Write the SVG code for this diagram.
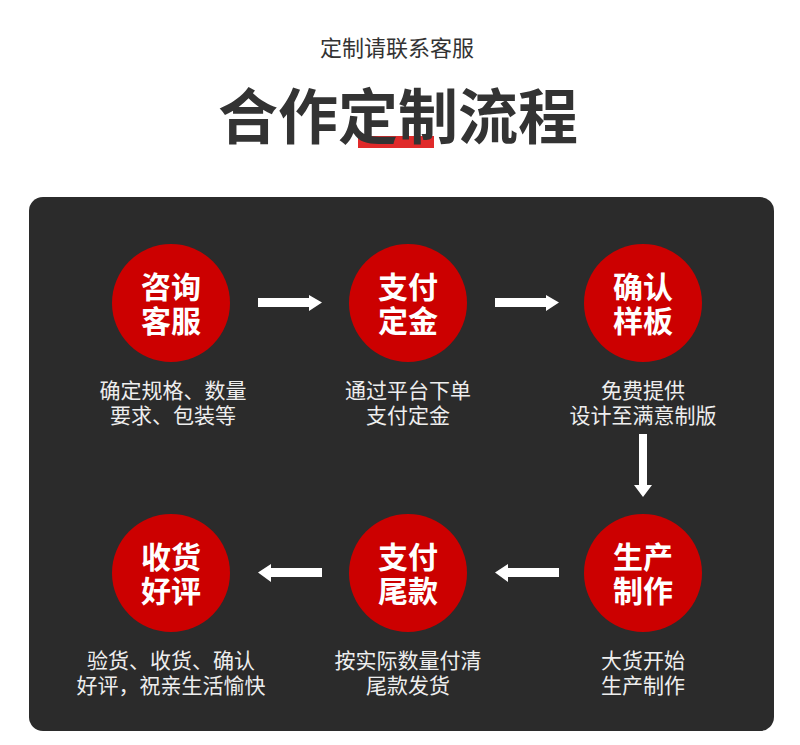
<svg xmlns="http://www.w3.org/2000/svg" width="800" height="745" viewBox="0 0 800 745">
<style>
.sub{font-family:"Noto Sans CJK SC","Noto Sans",sans-serif;font-size:22px;fill:#333;text-anchor:middle}
.title{font-family:"Noto Sans CJK SC","Noto Sans",sans-serif;font-size:60px;font-weight:bold;fill:#333;text-anchor:middle}
.c{fill:#cc0000}
.ct{font-family:"Noto Sans CJK SC","Noto Sans",sans-serif;font-size:30px;font-weight:bold;fill:#fff;text-anchor:middle}
.cap{font-family:"Noto Sans CJK SC","Noto Sans",sans-serif;font-size:21px;fill:#eeeeee;text-anchor:middle}
.arr{fill:#fff}
</style>
<rect width="800" height="745" fill="#fff"/>
<text class="sub" x="397" y="56">定制请联系客服</text>
<rect x="358" y="136" width="76" height="12" fill="#e02a2a"/>
<text class="title" x="398" y="139">合作定制流程</text>
<rect x="29" y="197" width="745" height="534" rx="14" fill="#2b2b2b"/>
<g id="n1"><circle class="c" cx="171" cy="303" r="59"/><text class="ct" x="171" y="298">咨询<tspan x="171" dy="34">客服</tspan></text><text class="cap" x="173" y="398">确定规格、数量<tspan x="173" dy="25">要求、包装等</tspan></text></g>
<g id="n2"><circle class="c" cx="408" cy="303" r="59"/><text class="ct" x="408" y="298">支付<tspan x="408" dy="34">定金</tspan></text><text class="cap" x="408" y="398">通过平台下单<tspan x="408" dy="25">支付定金</tspan></text></g>
<g id="n3"><circle class="c" cx="643" cy="303" r="59"/><text class="ct" x="643" y="298">确认<tspan x="643" dy="34">样板</tspan></text><text class="cap" x="643" y="398">免费提供<tspan x="643" dy="25">设计至满意制版</tspan></text></g>
<g id="n4"><circle class="c" cx="643" cy="573" r="59"/><text class="ct" x="643" y="568">生产<tspan x="643" dy="34">制作</tspan></text><text class="cap" x="643" y="668">大货开始<tspan x="643" dy="25">生产制作</tspan></text></g>
<g id="n5"><circle class="c" cx="408" cy="573" r="59"/><text class="ct" x="408" y="568">支付<tspan x="408" dy="34">尾款</tspan></text><text class="cap" x="408" y="668">按实际数量付清<tspan x="408" dy="25">尾款发货</tspan></text></g>
<g id="n6"><circle class="c" cx="171" cy="573" r="59"/><text class="ct" x="171" y="568">收货<tspan x="171" dy="34">好评</tspan></text><text class="cap" x="171" y="668">验货、收货、确认<tspan x="171" dy="25">好评，祝亲生活愉快</tspan></text></g>
<g id="connectors">
<polygon class="arr" points="258,298 309,298 309,295 322,302.5 309,311 309,307 258,307"/>
<polygon class="arr" points="495,298 546,298 546,295 559,302.5 546,311 546,307 495,307"/>
<polygon class="arr" points="639,434 647,434 647,485 652,485 643,497 634,485 639,485"/>
<polygon class="arr" points="559,568 508,568 508,564 495,572.5 508,582 508,577 559,577"/>
<polygon class="arr" points="322,568 271,568 271,564 258,572.5 271,582 271,577 322,577"/>
</g>
</svg>
